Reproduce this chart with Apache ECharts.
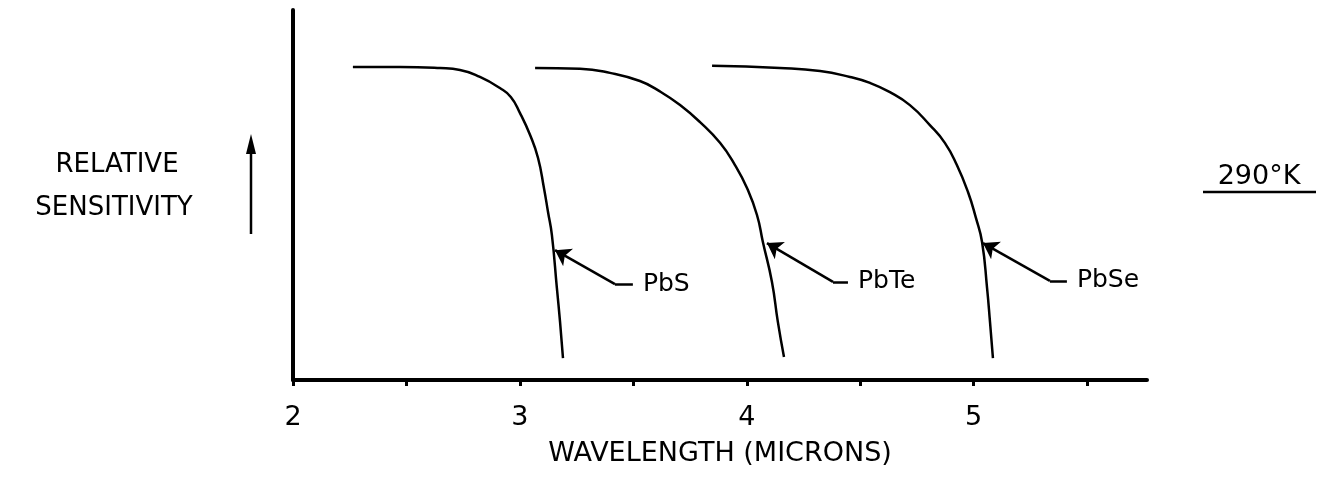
<!DOCTYPE html>
<html>
<head>
<meta charset="utf-8">
<script src="https://cdn.jsdelivr.net/npm/echarts@6/dist/echarts.min.js"></script>
<style>html,body{margin:0;padding:0;background:#fff;}#chart{width:1331px;height:481px;}</style>
</head>
<body>
<div id="chart"></div>
<script>
// Wavelength (microns) and relative sensitivity
const pbsWave = [2.264, 2.472, 2.648, 2.736, 2.824, 2.912, 2.960, 3.000, 3.045, 3.080, 3.106, 3.124, 3.141, 3.163, 3.177, 3.190];
const pbsSens = [0.846, 0.846, 0.843, 0.838, 0.819, 0.789, 0.765, 0.722, 0.662, 0.600, 0.519, 0.454, 0.392, 0.249, 0.157, 0.059];
const pbteWave = [3.067, 3.265, 3.397, 3.529, 3.617, 3.706, 3.794, 3.882, 3.948, 4.001, 4.045, 4.071, 4.111, 4.137, 4.164];
const pbteSens = [0.843, 0.841, 0.830, 0.808, 0.780, 0.743, 0.697, 0.641, 0.581, 0.519, 0.446, 0.373, 0.265, 0.157, 0.062];
const pbseWave = [3.847, 4.146, 4.323, 4.455, 4.543, 4.631, 4.719, 4.807, 4.873, 4.926, 4.975, 5.010, 5.037, 5.059, 5.072, 5.085];
const pbseSens = [0.849, 0.843, 0.835, 0.819, 0.803, 0.778, 0.743, 0.689, 0.641, 0.581, 0.508, 0.438, 0.373, 0.249, 0.157, 0.059];
const seriesNames = ['PbS', 'PbTe', 'PbSe'];
// Leader arrows: [tip on curve, elbow, end near label]
const arrowWave = [[3.155, 3.419, 3.498], [4.089, 4.380, 4.446], [5.041, 5.336, 5.411]];
const arrowSens = [[0.351, 0.259, 0.259], [0.370, 0.265, 0.265], [0.370, 0.268, 0.268]];
const xTickLabels = [2, 3, 4, 5];

const FONT = 'DejaVu Sans';
const zip = (a, b) => a.map((v, i) => [v, b[i]]);
const curves = [zip(pbsWave, pbsSens), zip(pbteWave, pbteSens), zip(pbseWave, pbseSens)];

const series = [];
curves.forEach((d, i) => {
  series.push({
    type: 'line', name: seriesNames[i], data: d, smooth: 0.5, symbol: 'none',
    lineStyle: { color: '#000', width: 2.5 }, silent: true, z: 3
  });
});
// horizontal leader segments (elbow -> end)
series.push({
  type: 'lines', coordinateSystem: 'cartesian2d',
  symbol: ['none', 'none'],
  lineStyle: { color: '#000', width: 2.5, opacity: 1 },
  data: arrowWave.map((w, i) => ({ coords: [[w[1], arrowSens[i][1]], [w[2], arrowSens[i][2]]] })),
  silent: true, z: 4
});
// slanted leader segments with arrowheads (elbow -> tip)
series.push({
  type: 'lines', coordinateSystem: 'cartesian2d',
  symbol: ['none', 'arrow'], symbolSize: 15,
  lineStyle: { color: '#000', width: 2.5, opacity: 1 },
  itemStyle: { color: '#000' },
  data: arrowWave.map((w, i) => ({ coords: [[w[1], arrowSens[i][1]], [w[0], arrowSens[i][0]]] })),
  silent: true, z: 4
});
series.push({
  type: 'scatter', symbolSize: 0, silent: true,
  itemStyle: { opacity: 1, color: '#000' },
  data: arrowWave.map((w, i) => ({ value: [w[2], arrowSens[i][2]], name: seriesNames[i] })),
  label: { show: true, position: 'right', distance: 10, formatter: p => p.name,
           fontFamily: FONT, fontSize: 25, color: '#000', opacity: 1 }
});

const chart = echarts.init(document.getElementById('chart'), null, { renderer: 'canvas' });
chart.setOption({
  backgroundColor: '#fff',
  animation: false,
  grid: { left: 293, top: 10, right: 184, bottom: 101 },
  xAxis: {
    type: 'value', min: 2, max: 5.764, interval: 0.5,
    name: 'WAVELENGTH (MICRONS)', nameLocation: 'middle', nameGap: 60,
    nameTextStyle: { fontFamily: FONT, fontSize: 27, color: '#000' },
    axisLine: { show: true, lineStyle: { color: '#000', width: 4 } },
    axisTick: { show: true, length: 6, lineStyle: { color: '#000', width: 3 } },
    axisLabel: {
      margin: 24, fontFamily: FONT, fontSize: 27, color: '#000',
      showMaxLabel: false,
      formatter: v => xTickLabels.includes(Math.round(v * 1000) / 1000) ? String(Math.round(v)) : ''
    },
    splitLine: { show: false }
  },
  yAxis: {
    type: 'value', min: 0, max: 1,
    axisLine: { show: true, lineStyle: { color: '#000', width: 4 } },
    axisTick: { show: false }, axisLabel: { show: false }, splitLine: { show: false }
  },
  graphic: [
    { type: 'text', x: 117, y: 165, style: { text: 'RELATIVE', fontFamily: FONT, fontSize: 26, fill: '#000', textAlign: 'center', textVerticalAlign: 'middle' } },
    { type: 'text', x: 114, y: 208, style: { text: 'SENSITIVITY', fontFamily: FONT, fontSize: 26, fill: '#000', textAlign: 'center', textVerticalAlign: 'middle' } },
    { type: 'line', shape: { x1: 251, y1: 234, x2: 251, y2: 148 }, style: { stroke: '#000', lineWidth: 2.5 } },
    { type: 'polygon', shape: { points: [[251, 134], [246, 154], [256, 154]] }, style: { fill: '#000' } },
    { type: 'text', x: 1259, y: 177, style: { text: '290°K', fontFamily: FONT, fontSize: 27, fill: '#000', textAlign: 'center', textVerticalAlign: 'middle' } },
    { type: 'line', shape: { x1: 1203, y1: 192, x2: 1316, y2: 192 }, style: { stroke: '#000', lineWidth: 2.5 } }
  ],
  series: series
});
</script>
</body>
</html>
